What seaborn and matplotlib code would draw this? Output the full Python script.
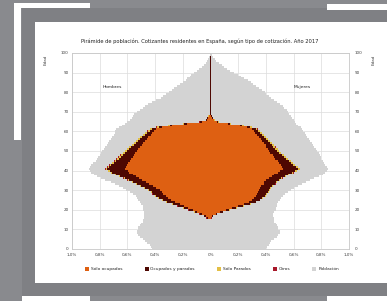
import numpy as np
import matplotlib
matplotlib.use("Agg")
import matplotlib.pyplot as plt
from matplotlib.patches import Rectangle, Patch
import seaborn as sns

# Edades 0-100, % sobre población total
edades = list(range(0, 101))
poblacion_h = [0.42, 0.43, 0.44, 0.46, 0.47, 0.49, 0.51, 0.52, 0.53, 0.53,
               0.52, 0.52, 0.51, 0.50, 0.49, 0.49, 0.48, 0.48, 0.48, 0.48,
               0.49, 0.49, 0.49, 0.50, 0.51, 0.52, 0.53, 0.54, 0.56, 0.58,
               0.61, 0.63, 0.66, 0.69, 0.72, 0.76, 0.79, 0.82, 0.84, 0.86,
               0.87, 0.88, 0.87, 0.86, 0.85, 0.83, 0.82, 0.81, 0.80, 0.79,
               0.78, 0.77, 0.76, 0.75, 0.74, 0.73, 0.72, 0.71, 0.70, 0.69,
               0.69, 0.68, 0.66, 0.64, 0.62, 0.60, 0.58, 0.57, 0.56, 0.55,
               0.53, 0.51, 0.49, 0.47, 0.45, 0.42, 0.39, 0.36, 0.34, 0.32,
               0.30, 0.28, 0.26, 0.24, 0.22, 0.20, 0.18, 0.17, 0.15, 0.14,
               0.12, 0.10, 0.08, 0.06, 0.05, 0.035, 0.025, 0.015, 0.01, 0.005,
               0.003]
poblacion_m = [0.40, 0.41, 0.42, 0.43, 0.44, 0.46, 0.48, 0.49, 0.50, 0.50,
               0.49, 0.49, 0.48, 0.47, 0.46, 0.46, 0.46, 0.45, 0.45, 0.46,
               0.47, 0.47, 0.48, 0.48, 0.49, 0.50, 0.51, 0.52, 0.54, 0.56,
               0.58, 0.60, 0.63, 0.66, 0.69, 0.72, 0.75, 0.78, 0.81, 0.83,
               0.84, 0.85, 0.84, 0.83, 0.82, 0.81, 0.80, 0.80, 0.79, 0.78,
               0.77, 0.76, 0.75, 0.74, 0.73, 0.72, 0.71, 0.70, 0.69, 0.68,
               0.67, 0.66, 0.65, 0.63, 0.62, 0.61, 0.60, 0.59, 0.58, 0.57,
               0.56, 0.55, 0.53, 0.52, 0.50, 0.48, 0.46, 0.44, 0.42, 0.40,
               0.39, 0.37, 0.35, 0.33, 0.31, 0.29, 0.27, 0.24, 0.22, 0.20,
               0.17, 0.14, 0.12, 0.10, 0.08, 0.06, 0.04, 0.03, 0.02, 0.01,
               0.005]

# Cotizantes, edades 16-98
edades_cot = list(range(16, 99))
solo_ocupados_h = [0.021, 0.036, 0.060, 0.095, 0.124, 0.159, 0.194, 0.223, 0.258, 0.283,
                   0.308, 0.323, 0.343, 0.348, 0.363, 0.393, 0.417, 0.442, 0.467, 0.491,
                   0.515, 0.540, 0.559, 0.588, 0.598, 0.616, 0.611, 0.605, 0.595, 0.584,
                   0.574, 0.563, 0.553, 0.543, 0.532, 0.522, 0.512, 0.497, 0.487, 0.472,
                   0.462, 0.452, 0.433, 0.423, 0.408, 0.394, 0.350, 0.276, 0.173, 0.064,
                   0.027, 0.018, 0.009,
                   0, 0, 0, 0, 0, 0, 0, 0, 0, 0,
                   0, 0, 0, 0, 0, 0, 0, 0, 0, 0,
                   0, 0, 0, 0, 0, 0, 0, 0, 0, 0]
ocupados_parados_h = [0.005, 0.01, 0.015, 0.02, 0.03, 0.035, 0.04, 0.05, 0.055, 0.06,
                      0.065, 0.07, 0.07, 0.075, 0.08, 0.08, 0.085, 0.09, 0.095, 0.10,
                      0.105, 0.11, 0.12, 0.12, 0.13, 0.13, 0.12, 0.11, 0.10, 0.095,
                      0.09, 0.085, 0.08, 0.075, 0.07, 0.065, 0.06, 0.055, 0.05, 0.05,
                      0.045, 0.04, 0.04, 0.035, 0.03, 0.03, 0.025, 0.02, 0.015, 0.01,
                      0.005, 0.005, 0.005,
                      0.005, 0.005, 0.005, 0.005, 0.005, 0.005, 0.005, 0.005, 0.005, 0.005,
                      0.005, 0.005, 0.005, 0.005, 0.005, 0.005, 0.005, 0.005, 0.005, 0.005,
                      0.005, 0.005, 0.005, 0.005, 0.005, 0.005, 0.005, 0.005, 0.005, 0.005]
solo_parados_h = [0.002, 0.002, 0.003, 0.003, 0.004, 0.004, 0.004, 0.005, 0.005, 0.005,
                  0.005, 0.005, 0.005, 0.005, 0.005, 0.005, 0.006, 0.006, 0.006, 0.007,
                  0.008, 0.008, 0.009, 0.010, 0.010, 0.012, 0.012, 0.013, 0.013, 0.014,
                  0.014, 0.015, 0.015, 0.015, 0.016, 0.016, 0.016, 0.016, 0.016, 0.016,
                  0.016, 0.016, 0.015, 0.015, 0.015, 0.014, 0.013, 0.012, 0.010, 0.004,
                  0.002, 0.001, 0.001,
                  0, 0, 0, 0, 0, 0, 0, 0, 0, 0,
                  0, 0, 0, 0, 0, 0, 0, 0, 0, 0,
                  0, 0, 0, 0, 0, 0, 0, 0, 0, 0]
otros_h = [0.002, 0.002, 0.002, 0.002, 0.002, 0.002, 0.002, 0.002, 0.002, 0.002,
           0.002, 0.002, 0.002, 0.002, 0.002, 0.002, 0.002, 0.002, 0.002, 0.002,
           0.002, 0.002, 0.002, 0.002, 0.002, 0.002, 0.002, 0.002, 0.002, 0.002,
           0.002, 0.002, 0.002, 0.002, 0.002, 0.002, 0.002, 0.002, 0.002, 0.002,
           0.002, 0.002, 0.002, 0.002, 0.002, 0.002, 0.002, 0.002, 0.002, 0.002,
           0.001, 0.001, 0.001,
           0, 0, 0, 0, 0, 0, 0, 0, 0, 0,
           0, 0, 0, 0, 0, 0, 0, 0, 0, 0,
           0, 0, 0, 0, 0, 0, 0, 0, 0, 0]

solo_ocupados_m = [0.004, 0.013, 0.037, 0.072, 0.111, 0.156, 0.195, 0.240, 0.275, 0.299,
                   0.314, 0.329, 0.334, 0.344, 0.349, 0.358, 0.363, 0.383, 0.387, 0.402,
                   0.421, 0.441, 0.460, 0.484, 0.503, 0.522, 0.516, 0.506, 0.495, 0.485,
                   0.469, 0.459, 0.449, 0.433, 0.423, 0.418, 0.403, 0.398, 0.388, 0.373,
                   0.363, 0.349, 0.339, 0.324, 0.315, 0.300, 0.266, 0.212, 0.129, 0.047,
                   0.022, 0.014, 0.005,
                   0, 0, 0, 0, 0, 0, 0, 0, 0, 0,
                   0, 0, 0, 0, 0, 0, 0, 0, 0, 0,
                   0, 0, 0, 0, 0, 0, 0, 0, 0, 0]
ocupados_parados_m = [0.002, 0.005, 0.01, 0.015, 0.025, 0.03, 0.04, 0.045, 0.05, 0.055,
                      0.06, 0.065, 0.07, 0.07, 0.075, 0.075, 0.08, 0.08, 0.085, 0.09,
                      0.09, 0.095, 0.10, 0.105, 0.11, 0.11, 0.10, 0.09, 0.085, 0.08,
                      0.075, 0.07, 0.065, 0.06, 0.055, 0.05, 0.05, 0.045, 0.04, 0.04,
                      0.035, 0.035, 0.03, 0.03, 0.025, 0.025, 0.02, 0.015, 0.01, 0.008,
                      0.005, 0.005, 0.005,
                      0.005, 0.005, 0.005, 0.005, 0.005, 0.005, 0.005, 0.005, 0.005, 0.005,
                      0.005, 0.005, 0.005, 0.005, 0.005, 0.005, 0.005, 0.005, 0.005, 0.005,
                      0.005, 0.005, 0.005, 0.005, 0.005, 0.005, 0.005, 0.005, 0.005, 0.005]
solo_parados_m = [0.001, 0.001, 0.002, 0.002, 0.003, 0.003, 0.004, 0.004, 0.004, 0.005,
                  0.005, 0.005, 0.005, 0.005, 0.005, 0.006, 0.006, 0.006, 0.007, 0.007,
                  0.008, 0.008, 0.009, 0.010, 0.011, 0.012, 0.013, 0.013, 0.014, 0.014,
                  0.015, 0.015, 0.015, 0.016, 0.016, 0.016, 0.016, 0.016, 0.016, 0.016,
                  0.016, 0.015, 0.015, 0.015, 0.014, 0.014, 0.013, 0.012, 0.010, 0.004,
                  0.002, 0.001, 0.001,
                  0, 0, 0, 0, 0, 0, 0, 0, 0, 0,
                  0, 0, 0, 0, 0, 0, 0, 0, 0, 0,
                  0, 0, 0, 0, 0, 0, 0, 0, 0, 0]
otros_m = [0.001, 0.001, 0.001, 0.001, 0.001, 0.001, 0.001, 0.001, 0.001, 0.001,
           0.001, 0.001, 0.001, 0.001, 0.001, 0.001, 0.001, 0.001, 0.001, 0.001,
           0.001, 0.001, 0.001, 0.001, 0.001, 0.001, 0.001, 0.001, 0.001, 0.001,
           0.001, 0.001, 0.001, 0.001, 0.001, 0.001, 0.001, 0.001, 0.001, 0.001,
           0.001, 0.001, 0.001, 0.001, 0.001, 0.001, 0.001, 0.001, 0.001, 0.001,
           0.001, 0.001, 0.001,
           0, 0, 0, 0, 0, 0, 0, 0, 0, 0,
           0, 0, 0, 0, 0, 0, 0, 0, 0, 0,
           0, 0, 0, 0, 0, 0, 0, 0, 0, 0]

ticks_x = [-1.0, -0.8, -0.6, -0.4, -0.2, 0.0, 0.2, 0.4, 0.6, 0.8, 1.0]
etiquetas_x = ["1,0%", "0,8%", "0,6%", "0,4%", "0,2%", "0%", "0,2%", "0,4%", "0,6%", "0,8%", "1,0%"]
ticks_y = [0, 10, 20, 30, 40, 50, 60, 70, 80, 90, 100]

series = ["Sólo ocupados", "Ocupados y parados", "Sólo Parados", "Otros", "Población"]
colores = ["#de6012", "#4e0802", "#e3bf45", "#a8182a", "#d3d3d3"]

titulo = "Pirámide de población. Cotizantes residentes en España, según tipo de cotización. Año 2017"

sns.set_style("white")
plt.rcParams["font.family"] = ["DejaVu Sans"]

W, H = 387, 301
fig = plt.figure(figsize=(W / 100, H / 100), dpi=100, facecolor="#898a8e")


def rect_px(x0, y0, x1, y1, color):
    # rectangulo decorativo en pixeles (origen arriba a la izquierda)
    fig.patches.append(Rectangle((x0 / W, 1 - y1 / H), (x1 - x0) / W, (y1 - y0) / H,
                                 transform=fig.transFigure, facecolor=color,
                                 edgecolor="none", zorder=-5))


# marco de fondo
rect_px(22, 8, 387, 296, "#7f8084")
rect_px(14, 3, 90, 8, "white")
rect_px(14, 3, 21, 140, "white")
rect_px(22, 296, 90, 301, "white")
rect_px(327, 4, 387, 10, "white")
rect_px(327, 296, 387, 301, "white")
rect_px(35, 22, 387, 283, "white")

ax = fig.add_axes([72 / W, 1 - 249 / H, (349 - 72) / W, (249 - 53) / H])
ax.set_facecolor("white")

# acumulados (del centro hacia fuera)
c1_h = np.array(solo_ocupados_h)
c2_h = c1_h + np.array(ocupados_parados_h)
c3_h = c2_h + np.array(solo_parados_h)
c4_h = c3_h + np.array(otros_h)
c1_m = np.array(solo_ocupados_m)
c2_m = c1_m + np.array(ocupados_parados_m)
c3_m = c2_m + np.array(solo_parados_m)
c4_m = c3_m + np.array(otros_m)

kw = dict(orient="h", native_scale=True, width=1, saturation=1, linewidth=0,
          errorbar=None, ax=ax)

sns.barplot(x=-np.array(poblacion_h), y=edades, color=colores[4], **kw)
sns.barplot(x=np.array(poblacion_m), y=edades, color=colores[4], **kw)
for cum_h, cum_m, col in [(c4_h, c4_m, colores[3]), (c3_h, c3_m, colores[2]),
                          (c2_h, c2_m, colores[1]), (c1_h, c1_m, colores[0])]:
    sns.barplot(x=-cum_h, y=edades_cot, color=col, **kw)
    sns.barplot(x=cum_m, y=edades_cot, color=col, **kw)

ax.set_xlim(-1.0, 1.0)
ax.set_ylim(0, 100)
ax.set_xticks(ticks_x)
ax.set_xticklabels(etiquetas_x)
ax.set_yticks(ticks_y)
ax.set_xlabel("")
ax.set_ylabel("")
ax.grid(True, color="#dcdcdc", linewidth=0.5)
ax.set_axisbelow(True)
ax.tick_params(labelsize=3, length=0, colors="#404040")
ax.tick_params(axis="x", pad=3)
ax.tick_params(axis="y", pad=2.5)
for s in ax.spines.values():
    s.set_color("#c8c8c8")
    s.set_linewidth(0.6)

ax2 = ax.twinx()
ax2.set_ylim(0, 100)
ax2.set_yticks(ticks_y)
ax2.tick_params(labelsize=3, length=0, pad=4, colors="#404040")
for s in ax2.spines.values():
    s.set_visible(False)

ax.text(-0.71, 82.5, "Hombres", fontsize=3.2, ha="center", va="center", color="#202020")
ax.text(0.66, 82.5, "Mujeres", fontsize=3.2, ha="center", va="center", color="#202020")

fig.text(46 / W, 1 - 60 / H, "Edad", rotation=90, fontsize=3, ha="center", va="center", color="#404040")
fig.text(374 / W, 1 - 60 / H, "Edad", rotation=90, fontsize=3, ha="center", va="center", color="#404040")
fig.text(200 / W, 1 - 41 / H, titulo, fontsize=3.7, ha="center", va="center", color="#202020")

handles = [Patch(facecolor=c, edgecolor="none") for c in colores]
fig.legend(handles, series, loc="center", bbox_to_anchor=(212 / W, 1 - 269 / H), ncol=5,
           frameon=False, fontsize=3.2, handlelength=0.9, handleheight=0.9,
           handletextpad=0.4, columnspacing=5)

fig.savefig("out.png", dpi=100, facecolor=fig.get_facecolor())
